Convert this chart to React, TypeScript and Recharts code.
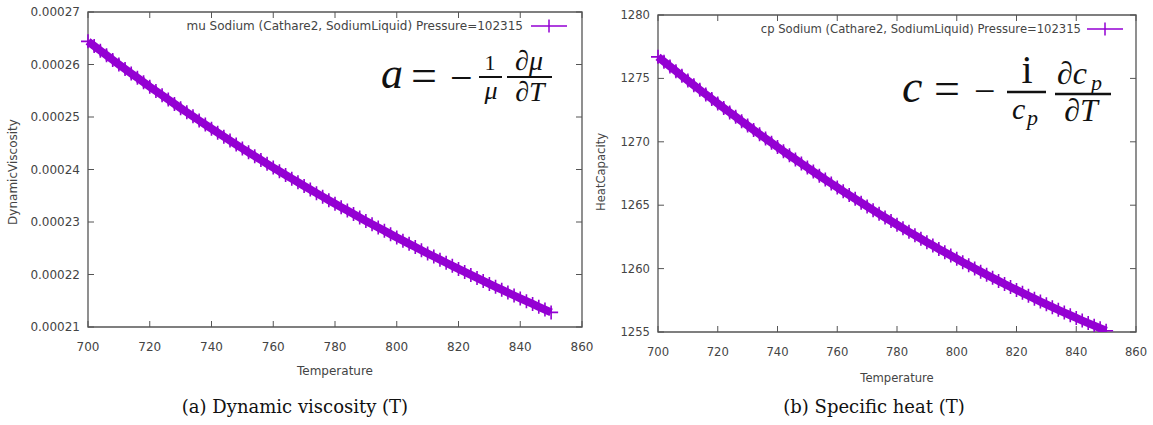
import React from 'react';
import { ScatterChart, Scatter, XAxis, YAxis, ReferenceArea } from 'recharts';

// temperature samples (K)
const temps = [
  700, 702, 704, 706, 708, 710, 712, 714, 716, 718, 720, 722, 724, 726, 728, 730, 732, 734, 736, 738,
  740, 742, 744, 746, 748, 750, 752, 754, 756, 758, 760, 762, 764, 766, 768, 770, 772, 774, 776, 778,
  780, 782, 784, 786, 788, 790, 792, 794, 796, 798, 800, 802, 804, 806, 808, 810, 812, 814, 816, 818,
  820, 822, 824, 826, 828, 830, 832, 834, 836, 838, 840, 842, 844, 846, 848, 850,
];

// dynamic viscosity, in units of 1e-4
const viscosity = [
  2.6441, 2.6352, 2.6264, 2.6176, 2.6088, 2.6000, 2.5915, 2.5830, 2.5746, 2.5661,
  2.5576, 2.5495, 2.5413, 2.5332, 2.5250, 2.5169, 2.5091, 2.5012, 2.4934, 2.4855,
  2.4777, 2.4701, 2.4626, 2.4551, 2.4475, 2.4400, 2.4327, 2.4254, 2.4182, 2.4109,
  2.4036, 2.3966, 2.3896, 2.3826, 2.3756, 2.3686, 2.3618, 2.3550, 2.3483, 2.3415,
  2.3347, 2.3282, 2.3217, 2.3151, 2.3086, 2.3021, 2.2958, 2.2895, 2.2832, 2.2769,
  2.2706, 2.2645, 2.2584, 2.2523, 2.2462, 2.2401, 2.2342, 2.2283, 2.2224, 2.2165,
  2.2106, 2.2049, 2.1992, 2.1935, 2.1878, 2.1821, 2.1766, 2.1711, 2.1656, 2.1600,
  2.1545, 2.1492, 2.1439, 2.1385, 2.1332, 2.1278,
];

// heat capacity
const heatCapacity = [
  1276.70, 1276.32, 1275.94, 1275.57, 1275.20, 1274.83, 1274.46, 1274.10, 1273.74, 1273.38,
  1273.02, 1272.67, 1272.32, 1271.97, 1271.62, 1271.28, 1270.93, 1270.59, 1270.26, 1269.92,
  1269.59, 1269.26, 1268.93, 1268.61, 1268.29, 1267.97, 1267.65, 1267.33, 1267.02, 1266.71,
  1266.40, 1266.10, 1265.80, 1265.50, 1265.20, 1264.90, 1264.61, 1264.32, 1264.03, 1263.75,
  1263.46, 1263.18, 1262.90, 1262.63, 1262.36, 1262.08, 1261.82, 1261.55, 1261.29, 1261.03,
  1260.77, 1260.51, 1260.26, 1260.01, 1259.76, 1259.51, 1259.27, 1259.03, 1258.79, 1258.55,
  1258.32, 1258.09, 1257.86, 1257.63, 1257.40, 1257.18, 1256.96, 1256.75, 1256.53, 1256.32,
  1256.11, 1255.90, 1255.70, 1255.50, 1255.30, 1255.10,
];

const tempTicks = [700, 720, 740, 760, 780, 800, 820, 840, 860];
const muTicks = [0.00021, 0.00022, 0.00023, 0.00024, 0.00025, 0.00026, 0.00027];
const cpTicks = [1255, 1260, 1265, 1270, 1275, 1280];

const PURPLE = '#9400d3';
const FRAME = '#555';
const TEXT = '#444';
const SANS = '"DejaVu Sans", sans-serif';
const SERIF = '"Liberation Serif", serif';

const muData = temps.map((t, i) => ({ t, v: viscosity[i] * 1e-4 }));
const cpData = temps.map((t, i) => ({ t, v: heatCapacity[i] }));

// gnuplot style "+" point
const Plus = (props: any) => {
  const { cx, cy } = props;
  if (cx == null || cy == null) return null;
  const s = 7;
  return (
    <path d={`M${cx - s},${cy}H${cx + s}M${cx},${cy - s}V${cy + s}`} stroke={PURPLE} strokeWidth={1.6} fill="none" />
  );
};

interface PanelProps {
  left: number;
  width: number;
  height: number;
  top: number;
  right: number;
  yWidth: number;
  data: { t: number; v: number }[];
  yDomain: [number, number];
  yTicks: number[];
  fmt: (v: number) => string;
  fs: number;
}

const Panel: React.FC<PanelProps> = ({ left, width, height, top, right, yWidth, data, yDomain, yTicks, fmt, fs }) => {
  const plotBottom = height - 50;
  const plotRight = width - right;

  const xTick = (p: any) => (
    <g>
      <line x1={p.x} x2={p.x} y1={plotBottom} y2={plotBottom - 6} stroke={FRAME} />
      <line x1={p.x} x2={p.x} y1={top} y2={top + 6} stroke={FRAME} />
      <text x={p.x} y={plotBottom + 20} dy="0.35em" textAnchor="middle" fontSize={fs} fontFamily={SANS} fill={TEXT}>
        {p.payload.value}
      </text>
    </g>
  );

  const yTick = (p: any) => (
    <g>
      <line x1={yWidth} x2={yWidth + 6} y1={p.y} y2={p.y} stroke={FRAME} />
      <line x1={plotRight} x2={plotRight - 6} y1={p.y} y2={p.y} stroke={FRAME} />
      <text x={yWidth - 8} y={p.y} dy="0.35em" textAnchor="end" fontSize={fs} fontFamily={SANS} fill={TEXT}>
        {fmt(p.payload.value)}
      </text>
    </g>
  );

  return (
    <div style={{ position: 'absolute', left, top: 0, width, height }}>
      <ScatterChart width={width} height={height} margin={{ top, right, bottom: 0, left: 0 }}>
        <XAxis
          type="number"
          dataKey="t"
          domain={[700, 860]}
          ticks={tempTicks}
          height={50}
          tickSize={0}
          tickLine={false}
          axisLine={false}
          tick={xTick}
          interval={0}
        />
        <YAxis
          type="number"
          dataKey="v"
          domain={yDomain}
          ticks={yTicks}
          width={yWidth}
          tickSize={0}
          tickLine={false}
          axisLine={false}
          tick={yTick}
          interval={0}
          allowDataOverflow
        />
        <ReferenceArea x1={700} x2={860} y1={yDomain[0]} y2={yDomain[1]} fill="none" stroke={FRAME} strokeWidth={1.3} />
        <Scatter
          data={data}
          shape={Plus}
          line={{ stroke: PURPLE, strokeWidth: 8 }}
          isAnimationActive={false}
        />
      </ScatterChart>
    </div>
  );
};

const Overlay = () => (
  <svg width={1153} height={425} style={{ position: 'absolute', left: 0, top: 0, pointerEvents: 'none' }}>
    {/* axis titles */}
    <text transform="translate(13,172) rotate(-90)" dy="0.35em" textAnchor="middle" fontSize={12} fontFamily={SANS} fill={TEXT}>
      DynamicViscosity
    </text>
    <text transform="translate(601,172) rotate(-90)" dy="0.35em" textAnchor="middle" fontSize={11.6} fontFamily={SANS} fill={TEXT}>
      HeatCapacity
    </text>
    <text x={335} y={371} dy="0.35em" textAnchor="middle" fontSize={12} fontFamily={SANS} fill={TEXT}>Temperature</text>
    <text x={897} y={378} dy="0.35em" textAnchor="middle" fontSize={11.6} fontFamily={SANS} fill={TEXT}>Temperature</text>

    {/* legends */}
    <text x={523} y={26} dy="0.35em" textAnchor="end" fontSize={12} fontFamily={SANS} fill={TEXT}>
      mu Sodium (Cathare2, SodiumLiquid) Pressure=102315
    </text>
    <path d="M531,26H567M549,19.5V32.5" stroke={PURPLE} strokeWidth={1.5} />
    <text x={1081} y={29} dy="0.35em" textAnchor="end" fontSize={11.6} fontFamily={SANS} fill={TEXT}>
      cp Sodium (Cathare2, SodiumLiquid) Pressure=102315
    </text>
    <path d="M1087,29H1123M1105,22.5V35.5" stroke={PURPLE} strokeWidth={1.5} />

    {/* formula (a) */}
    <g fontFamily={SERIF} fill="#111">
      <text x={381} y={88} fontSize={44} fontStyle="italic">a</text>
      <text x={411} y={91} fontSize={46}>=</text>
      <text x={450} y={91} fontSize={40}>−</text>
      <text x={490} y={70} fontSize={22} textAnchor="middle">1</text>
      <line x1={479} x2={502} y1={77} y2={77} stroke="#111" strokeWidth={2} />
      <text x={491} y={99} fontSize={26} fontStyle="italic" textAnchor="middle">μ</text>
      <text x={529} y={70} fontSize={28} fontStyle="italic" textAnchor="middle">∂μ</text>
      <line x1={507} x2={552} y1={77} y2={77} stroke="#111" strokeWidth={2} />
      <text x={530} y={101} fontSize={28} fontStyle="italic" textAnchor="middle">∂T</text>
    </g>

    {/* formula (b) */}
    <g fontFamily={SERIF} fill="#111">
      <text x={902} y={102} fontSize={46} fontStyle="italic">c</text>
      <text x={934} y={104} fontSize={46}>=</text>
      <text x={974} y={104} fontSize={38}>−</text>
      <text x={1027} y={83} fontSize={40} textAnchor="middle">i</text>
      <line x1={1007} x2={1046} y1={92} y2={92} stroke="#111" strokeWidth={2.3} />
      <text x={1012} y={119} fontSize={30} fontStyle="italic">c</text>
      <text x={1027} y={125} fontSize={22} fontStyle="italic">p</text>
      <text x={1057} y={84} fontSize={32} fontStyle="italic">∂c</text>
      <text x={1091} y={90} fontSize={22} fontStyle="italic">p</text>
      <line x1={1055} x2={1111} y1={94} y2={94} stroke="#111" strokeWidth={2.3} />
      <text x={1081} y={121} fontSize={32} fontStyle="italic" textAnchor="middle">∂T</text>
    </g>

    {/* captions */}
    <text x={295} y={407} dy="0.35em" textAnchor="middle" fontSize={18} fontFamily='"DejaVu Serif", serif' fill="#111">
      (a) Dynamic viscosity (T)
    </text>
    <text x={874} y={407} dy="0.35em" textAnchor="middle" fontSize={18} fontFamily='"DejaVu Serif", serif' fill="#111">
      (b) Specific heat (T)
    </text>
  </svg>
);

export default function App() {
  return (
    <div style={{ position: 'absolute', left: 0, top: 0, width: 1153, height: 425, background: '#fff', overflow: 'hidden' }}>
      <Panel
        left={0}
        width={600}
        height={377}
        top={12}
        right={18}
        yWidth={88}
        data={muData}
        yDomain={[0.00021, 0.00027]}
        yTicks={muTicks}
        fmt={(v) => v.toFixed(5)}
        fs={12}
      />
      <Panel
        left={580}
        width={573}
        height={382}
        top={15}
        right={17}
        yWidth={78}
        data={cpData}
        yDomain={[1255, 1280]}
        yTicks={cpTicks}
        fmt={(v) => String(v)}
        fs={11.6}
      />
      <Overlay />
    </div>
  );
}
